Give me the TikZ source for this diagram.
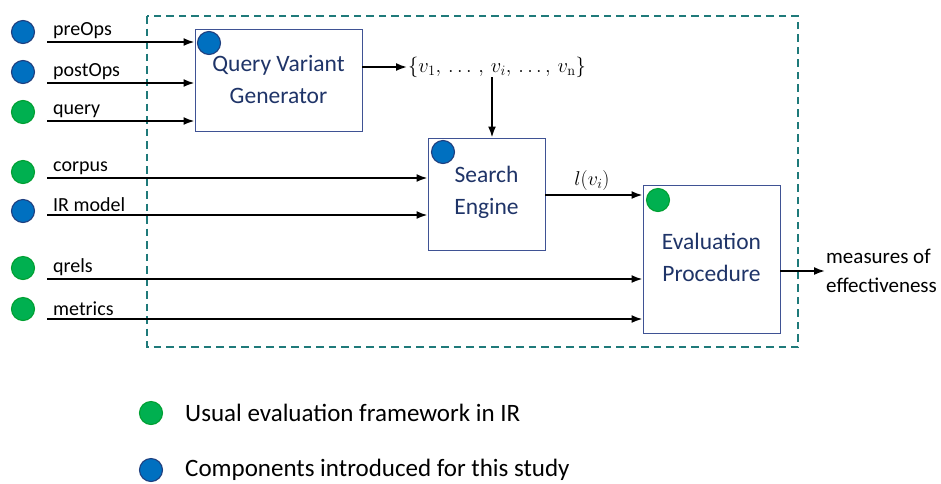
\RequirePackage{fix-cm}
\documentclass[tikz,border=0pt]{standalone}
\usepackage[no-math]{fontspec}
\setmainfont{Carlito}
\usetikzlibrary{arrows.meta}
\definecolor{gfill}{HTML}{00B050}
\definecolor{gline}{HTML}{00A032}
\definecolor{bfill}{HTML}{0070C0}
\definecolor{bline}{HTML}{1F3F7F}
\definecolor{navy}{HTML}{1F3468}
\definecolor{boxline}{HTML}{3F5294}
\definecolor{teal}{HTML}{1F7A7A}
\tikzset{
  gdot/.style={circle,fill=gfill,draw=gline,line width=1.1pt,minimum size=23pt,inner sep=0pt},
  bdot/.style={circle,fill=bfill,draw=bline,line width=1.1pt,minimum size=23pt,inner sep=0pt},
  procbox/.style={draw=boxline,line width=1pt,fill=white,inner sep=0pt},
  boxtext/.style={text=navy,font=\fontsize{23.5}{30}\selectfont,align=center},
  lbl/.style={anchor=south west,font=\fontsize{20}{22}\selectfont,inner sep=0pt},
  arr/.style={-{Latex[length=11pt,width=8pt]},line width=1.8pt},
}
\begin{document}
\begin{tikzpicture}[x=1pt,y=-1pt]
\useasboundingbox (0,0) rectangle (941,483);
% dashed frame
\draw[teal,line width=1.4pt,dash pattern=on 7.5pt off 5pt] (147,16) rectangle (798,347);
% boxes
\node[procbox,minimum width=167pt,minimum height=102pt] (qvg) at (278.5,80) {};
\node[boxtext] at (278.5,79) {Query Variant\\[2pt]Generator};
\node[procbox,minimum width=117pt,minimum height=112pt] (se) at (486.5,194) {};
\node[boxtext] at (486.5,192) {Search\\[2pt]Engine};
\node[procbox,minimum width=137pt,minimum height=148pt] (ep) at (711.5,259) {};
\node[boxtext] at (711.5,257) {Evaluation\\[2pt]Procedure};
% box dots
\node[bdot] (qvgd) at (209,43) {};
\node[bdot] (sed) at (443,152) {};
\node[gdot] (epd) at (658,200) {};
% input dots
\node[bdot] (d1) at (23,32) {};
\node[bdot] (d2) at (23,72) {};
\node[gdot] (d3) at (23,112) {};
\node[gdot] (d4) at (23,172) {};
\node[bdot] (d5) at (23,211) {};
\node[gdot] (d6) at (23,268) {};
\node[gdot] (d7) at (23,309) {};
% input line starts
\coordinate (s1) at (47,42);
\coordinate (s2) at (47,83);
\coordinate (s3) at (47,121);
\coordinate (s4) at (47,178);
\coordinate (s5) at (47,215);
\coordinate (s6) at (47,279);
\coordinate (s7) at (47,319);
\node[lbl] at (53,39) {preOps};
\node[lbl] at (53,80) {postOps};
\node[lbl] at (53,118) {query};
\node[lbl] at (53,175) {corpus};
\node[lbl] at (53,212) {IR model};
\node[lbl] at (53,276) {qrels};
\node[lbl] at (53,316) {metrics};
\draw[arr] (s1) -- (s1 -| qvg.west);
\draw[arr] (s2) -- (s2 -| qvg.west);
\draw[arr] (s3) -- (s3 -| qvg.west);
\draw[arr] (s4) -- (s4 -| se.west);
\draw[arr] (s5) -- (s5 -| se.west);
\draw[arr] (s6) -- (s6 -| ep.west);
\draw[arr] (s7) -- (s7 -| ep.west);
% variants
\node[anchor=west,inner sep=1pt,font=\fontsize{20.5}{22}\selectfont] (vars) at (407,67) {$\{v_1,\,\ldots\,,\,v_i,\,\ldots,\,v_{\mathrm{n}}\}$};
\coordinate (qout) at (362,67);
\draw[arr] (qout) -- (vars.west);
\coordinate (vdown) at (492,77);
\draw[arr] (vdown) -- (vdown |- se.north);
% search to eval
\coordinate (seout) at (545,195);
\draw[arr] (seout) -- (seout -| ep.west);
\node[font=\fontsize{20}{22}\selectfont] at (592,180) {$l(v_i)$};
% output
\coordinate (epout) at (780,271);
\node[anchor=west,align=left,inner sep=1pt,font=\fontsize{21}{29}\selectfont] (meas) at (825,271) {measures of\\effectiveness};
\draw[arr] (epout) -- (meas.west);
% legend
\node[gdot] (lg) at (151,413) {};
\node[anchor=west,font=\fontsize{25}{28}\selectfont,inner sep=0pt] at (185,413) {Usual evaluation framework in IR};
\node[bdot] (lb) at (151,470) {};
\node[anchor=west,font=\fontsize{25}{28}\selectfont,inner sep=0pt] at (185,470) {Components introduced for this study};
\end{tikzpicture}
\end{document}
